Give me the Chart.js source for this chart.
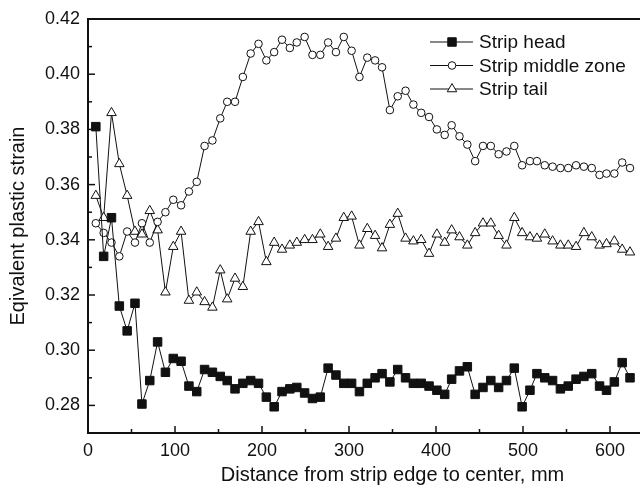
<!DOCTYPE html>
<html>
<head>
<meta charset="utf-8">
<script src="https://cdn.jsdelivr.net/npm/chart.js@4.4.1/dist/chart.umd.min.js"></script>
<style>
  html, body { margin: 0; padding: 0; background: #fff; overflow: hidden; }
  #wrap { width: 704px; height: 492px; }
</style>
</head>
<body>
<div id="wrap"><canvas id="strainChart"></canvas></div>
<script>
// distance from strip edge, mm
let distance = [9, 18, 27, 36, 45, 54, 62, 71, 80, 89, 98, 107, 116, 125, 134, 143, 152, 160, 169, 178,
  187, 196, 205, 214, 223, 232, 240, 249, 258, 267, 276, 285, 294, 303, 312, 321, 330, 338, 347, 356,
  365, 374, 383, 392, 401, 410, 418, 427, 436, 445, 454, 463, 472, 481, 490, 499, 508, 516, 525, 534,
  543, 552, 561, 570, 579, 588, 596, 605, 614, 623]

let stripHead = [0.381, 0.334, 0.348, 0.316, 0.307, 0.317, 0.2805, 0.289, 0.303, 0.292,
  0.297, 0.296, 0.287, 0.285, 0.293, 0.292, 0.2905, 0.289, 0.286, 0.288,
  0.289, 0.288, 0.283, 0.2795, 0.285, 0.286, 0.2865, 0.2845, 0.2825, 0.283,
  0.2935, 0.291, 0.288, 0.288, 0.285, 0.288, 0.290, 0.2915, 0.2885, 0.293,
  0.290, 0.288, 0.288, 0.287, 0.2855, 0.284, 0.2895, 0.2925, 0.294, 0.284,
  0.2865, 0.289, 0.2865, 0.289, 0.2935, 0.2795, 0.2855, 0.2915, 0.290, 0.289,
  0.286, 0.287, 0.2895, 0.2905, 0.2915, 0.287, 0.2855, 0.2885, 0.2955, 0.290]

let stripMiddle = [0.346, 0.3425, 0.339, 0.334, 0.343, 0.339, 0.346, 0.339, 0.3465, 0.350,
  0.3545, 0.3525, 0.3575, 0.361, 0.374, 0.376, 0.384, 0.390, 0.390, 0.399,
  0.4075, 0.411, 0.405, 0.408, 0.4125, 0.4095, 0.4115, 0.4135, 0.407, 0.407,
  0.4115, 0.408, 0.4135, 0.4085, 0.399, 0.406, 0.405, 0.4025, 0.387, 0.392,
  0.394, 0.389, 0.386, 0.3845, 0.380, 0.378, 0.3815, 0.3775, 0.3745, 0.3685,
  0.374, 0.374, 0.371, 0.372, 0.374, 0.367, 0.3685, 0.3685, 0.367, 0.3665,
  0.366, 0.366, 0.367, 0.3665, 0.366, 0.3635, 0.364, 0.364, 0.368, 0.366]

let stripTail = [0.356, 0.348, 0.386, 0.3675, 0.356, 0.343, 0.342, 0.3505, 0.3435, 0.321,
  0.3375, 0.343, 0.318, 0.321, 0.3175, 0.3155, 0.329, 0.3185, 0.326, 0.323,
  0.343, 0.3465, 0.332, 0.339, 0.3365, 0.338, 0.339, 0.340, 0.340, 0.342,
  0.3375, 0.3405, 0.348, 0.3485, 0.338, 0.344, 0.3415, 0.337, 0.3455, 0.3495,
  0.3405, 0.3395, 0.340, 0.335, 0.342, 0.339, 0.3435, 0.341, 0.338, 0.3425,
  0.346, 0.346, 0.3415, 0.338, 0.348, 0.3425, 0.341, 0.3405, 0.342, 0.3395,
  0.338, 0.338, 0.3375, 0.3425, 0.341, 0.338, 0.3385, 0.3395, 0.3365, 0.3355]

let seriesNames = ['Strip head', 'Strip middle zone', 'Strip tail']

let ink = '#111'
let fontFam = '"Liberation Sans", Arial, Helvetica, sans-serif'

let toPoints = vals => distance.map((d, i) => ({x: d, y: vals[i]}))

let marker = (ctx, style, r, fill, x, y) => {
  ctx.beginPath()
  if (style === 'rect') {
    let s = r * Math.SQRT1_2
    ctx.rect(x - s, y - s, 2 * s, 2 * s)
  } else if (style === 'triangle') {
    for (let k = 0; k < 3; k++) {
      let ang = k * 2 * Math.PI / 3
      let px = x + Math.sin(ang) * r, py = y - Math.cos(ang) * r
      k === 0 ? ctx.moveTo(px, py) : ctx.lineTo(px, py)
    }
    ctx.closePath()
  } else {
    ctx.arc(x, y, r, 0, Math.PI * 2)
  }
  ctx.fillStyle = fill
  ctx.fill()
  ctx.stroke()
}

// frame, inward ticks and the legend inside the plot
let frameAndLegend = {
  id: 'frameAndLegend',
  afterDraw(chart) {
    let {ctx, chartArea: a, scales: {x, y}} = chart
    ctx.save()
    ctx.strokeStyle = ink
    ctx.lineWidth = 1.5
    x.ticks.forEach(t => {
      let px = x.getPixelForValue(t.value)
      let len = t.value % 100 === 0 ? 7 : 4
      ctx.beginPath(); ctx.moveTo(px, a.bottom); ctx.lineTo(px, a.bottom - len); ctx.stroke()
    })
    y.ticks.forEach(t => {
      let py = y.getPixelForValue(t.value)
      let len = Math.round(t.value * 100) % 2 === 0 ? 7 : 4
      ctx.beginPath(); ctx.moveTo(a.left, py); ctx.lineTo(a.left + len, py); ctx.stroke()
    })
    ctx.lineWidth = 2
    ctx.strokeRect(a.left, a.top, a.right - a.left, a.bottom - a.top)

    // legend
    ctx.lineWidth = 1
    ctx.font = '19px ' + fontFam
    ctx.textBaseline = 'middle'
    ctx.textAlign = 'left'
    chart.data.datasets.forEach((ds, i) => {
      let ly = 42 + i * 23.5
      ctx.beginPath(); ctx.moveTo(430, ly); ctx.lineTo(473, ly); ctx.stroke()
      marker(ctx, ds.pointStyle, ds.pointRadius, ds.pointBackgroundColor, 452, ly)
      ctx.fillStyle = ink
      ctx.fillText(ds.label, 479, ly + 1)
    })
    ctx.restore()
  }
}

let mkSet = (label, vals, style, r, fill) => ({
  label: label,
  data: toPoints(vals),
  borderColor: ink,
  borderWidth: 1,
  tension: 0,
  pointStyle: style,
  pointRadius: r,
  pointBorderWidth: 1,
  pointBorderColor: ink,
  pointBackgroundColor: fill
})

new Chart(document.getElementById('strainChart').getContext('2d'), {
  type: 'line',
  data: {
    datasets: [
      mkSet(seriesNames[0], stripHead, 'rect', 6, ink),
      mkSet(seriesNames[1], stripMiddle, 'circle', 3.8, '#fff'),
      mkSet(seriesNames[2], stripTail, 'triangle', 5.5, '#fff')
    ]
  },
  options: {
    responsive: true,
    maintainAspectRatio: false,
    animation: false,
    layout: {padding: {top: 19, right: 0, bottom: 0, left: 0}},
    plugins: {legend: {display: false}, tooltip: {enabled: false}},
    scales: {
      x: {
        type: 'linear',
        min: 0, max: 700,
        grid: {display: false, drawTicks: false},
        border: {display: false},
        afterFit: s => { s.height = 59 },
        ticks: {
          stepSize: 50,
          autoSkip: false,
          maxRotation: 0,
          padding: 7,
          color: ink,
          font: {family: fontFam, size: 18},
          callback: v => (v % 100 === 0 && v <= 600) ? String(v) : ''
        },
        title: {
          display: true,
          text: 'Distance from strip edge to center, mm',
          color: ink,
          font: {family: fontFam, size: 20},
          padding: {top: 0, bottom: 5}
        }
      },
      y: {
        min: 0.27, max: 0.42,
        grid: {display: false, drawTicks: false},
        border: {display: false},
        afterFit: s => { s.width = 88 },
        ticks: {
          stepSize: 0.01,
          autoSkip: false,
          padding: 8,
          color: ink,
          font: {family: fontFam, size: 18},
          callback: v => {
            let k = Math.round(v * 100)
            return k % 2 === 0 ? (k / 100).toFixed(2) : ''
          }
        },
        title: {
          display: true,
          text: 'Eqivalent plastic strain',
          color: ink,
          font: {family: fontFam, size: 20},
          padding: {top: 6, bottom: 0}
        }
      }
    }
  },
  plugins: [frameAndLegend]
})
</script>
</body>
</html>
